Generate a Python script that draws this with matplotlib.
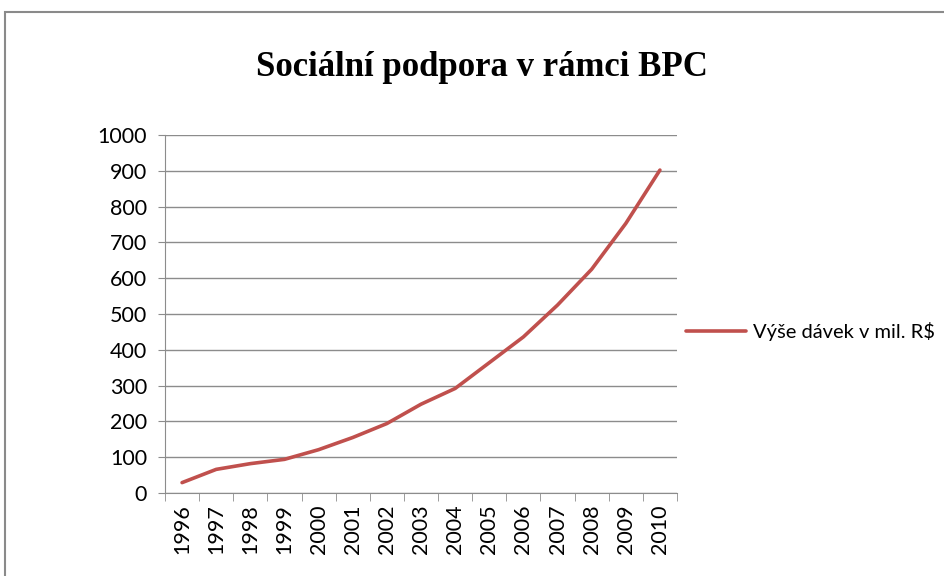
import matplotlib.pyplot as plt
from matplotlib.patches import Rectangle
import numpy as np

# Data
years = [str(y) for y in range(1996, 2011)]
values = [29, 66, 82, 94, 121, 155, 194, 248, 292, 364, 436, 525, 625, 753, 902]
series_name = "Výše dávek v mil. R$"

fig = plt.figure(figsize=(9.44, 5.76), dpi=100)
ax = fig.add_axes([165 / 944, 1 - 493 / 576, (677 - 165) / 944, (493 - 135) / 576])

x = np.arange(len(years))
ax.plot(x, values, color="#C0504D", linewidth=2.6, label=series_name,
        solid_capstyle="round")

ax.set_xlim(-0.5, len(years) - 0.5)
ax.set_ylim(0, 1000)
ax.set_yticks(range(0, 1001, 100))
ax.grid(axis="y", color="#8c8c8c", linewidth=1)
ax.set_axisbelow(True)

ax.set_xticks(x)
ax.set_xticklabels(years, rotation=90, fontsize=15.5, family="Lato")
ax.set_xticks(np.arange(-0.5, len(years)), minor=True)
ax.tick_params(axis="x", which="major", length=0, pad=8)
ax.tick_params(axis="x", which="minor", length=6, color="#8c8c8c")
ax.tick_params(axis="y", length=5, color="#8c8c8c", labelsize=15.5, pad=8)
for lab in ax.get_yticklabels():
    lab.set_family("Lato")

for side in ["top", "right"]:
    ax.spines[side].set_visible(False)
for side in ["left", "bottom"]:
    ax.spines[side].set_color("#8c8c8c")

fig.text(482 / 944, 1 - 67 / 576, "Sociální podpora v rámci BPC",
         ha="center", va="center", fontsize=25, fontweight="bold",
         family="Liberation Serif")

leg = ax.legend(loc="center left", bbox_to_anchor=(0.99, 0.45), frameon=False,
                handlelength=3.0, handletextpad=0.35, borderaxespad=0.3,
                prop={"family": "Lato", "size": 14.5})

fig.patches.append(Rectangle((5 / 944, -0.1), 1.2, 1 - 12 / 576 + 0.1,
                             transform=fig.transFigure, fill=False,
                             edgecolor="#8a8a8a", linewidth=1.5))

fig.savefig("out.png", dpi=100)
